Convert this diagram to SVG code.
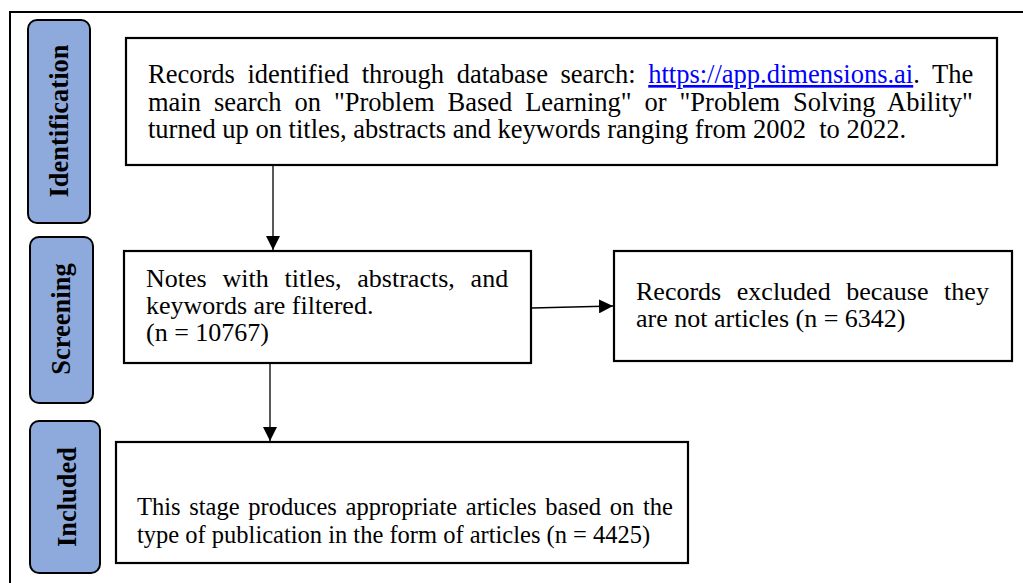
<svg xmlns="http://www.w3.org/2000/svg" width="1023" height="583" viewBox="0 0 1023 583">
<style>
.frame{fill:none;stroke:#000;stroke-width:2}
.pill{fill:#8EA9DB;stroke:#000;stroke-width:2}
.box{fill:#fff;stroke:#000;stroke-width:2.2}
.lbl{font-family:"Liberation Serif","Times New Roman",serif;font-weight:bold;font-size:26.5px;fill:#000;text-anchor:middle}
.txt{font-family:"Liberation Serif","Times New Roman",serif;font-size:26px;fill:#000}
.link{fill:#0000FF;text-decoration:underline}
.conn{stroke:#000;stroke-width:1.3;fill:none}
</style>
<defs>
<marker id="ah" viewBox="0 0 14 14" refX="14" refY="7" markerWidth="14" markerHeight="14" markerUnits="userSpaceOnUse" orient="auto">
<path d="M0,0 L14,7 L0,14 Z" fill="#000"/>
</marker>
</defs>
<rect width="1023" height="583" fill="#fff"/>
<path class="frame" d="M10,583 V12 H1023"/>

<g id="stage-identification">
<rect class="pill" x="28" y="20" width="62" height="203" rx="9"/>
<text class="lbl" transform="translate(68,121) rotate(-90)">Identification</text>
</g>
<g id="stage-screening">
<rect class="pill" x="30" y="237" width="63" height="166" rx="9"/>
<text class="lbl" transform="translate(70,319) rotate(-90)">Screening</text>
</g>
<g id="stage-included">
<rect class="pill" x="30" y="421" width="70" height="152" rx="9"/>
<text class="lbl" transform="translate(76,497) rotate(-90)">Included</text>
</g>

<g id="node-records">
<rect class="box" x="126" y="38" width="871" height="127"/>
<text class="txt" style="font-size:26.5px">
<tspan x="148" y="83" word-spacing="6">Records identified through database search: <tspan class="link">https://app.dimensions.ai</tspan>. The</tspan>
<tspan x="148" y="110.5" word-spacing="6.3">main search on "Problem Based Learning" or "Problem Solving Ability"</tspan>
<tspan x="148" y="138">turned up on titles, abstracts and keywords ranging from 2002 &#160;to 2022.</tspan>
</text>
</g>

<g id="node-screening">
<rect class="box" x="124" y="251" width="407" height="112"/>
<text class="txt">
<tspan x="146" y="287" word-spacing="9.3">Notes with titles, abstracts, and</tspan>
<tspan x="146" y="314">keywords are filtered.</tspan>
<tspan x="146" y="341">(n = 10767)</tspan>
</text>
</g>

<g id="node-excluded">
<rect class="box" x="614" y="251" width="398" height="110"/>
<text class="txt">
<tspan x="636" y="300" word-spacing="9.1">Records excluded because they</tspan>
<tspan x="636" y="327">are not articles (n = 6342)</tspan>
</text>
</g>

<g id="node-included">
<rect class="box" x="116" y="442" width="572" height="121"/>
<text class="txt" style="font-size:24.5px">
<tspan x="137" y="515" word-spacing="2.6">This stage produces appropriate articles based on the</tspan>
<tspan x="137" y="543">type of publication in the form of articles (n = 4425)</tspan>
</text>
</g>

<g id="connectors">
<line class="conn" x1="273" y1="165" x2="273" y2="250" marker-end="url(#ah)"/>
<line class="conn" x1="532" y1="308" x2="613" y2="306" marker-end="url(#ah)"/>
<line class="conn" x1="270" y1="363" x2="270" y2="441" marker-end="url(#ah)"/>
</g>
</svg>
